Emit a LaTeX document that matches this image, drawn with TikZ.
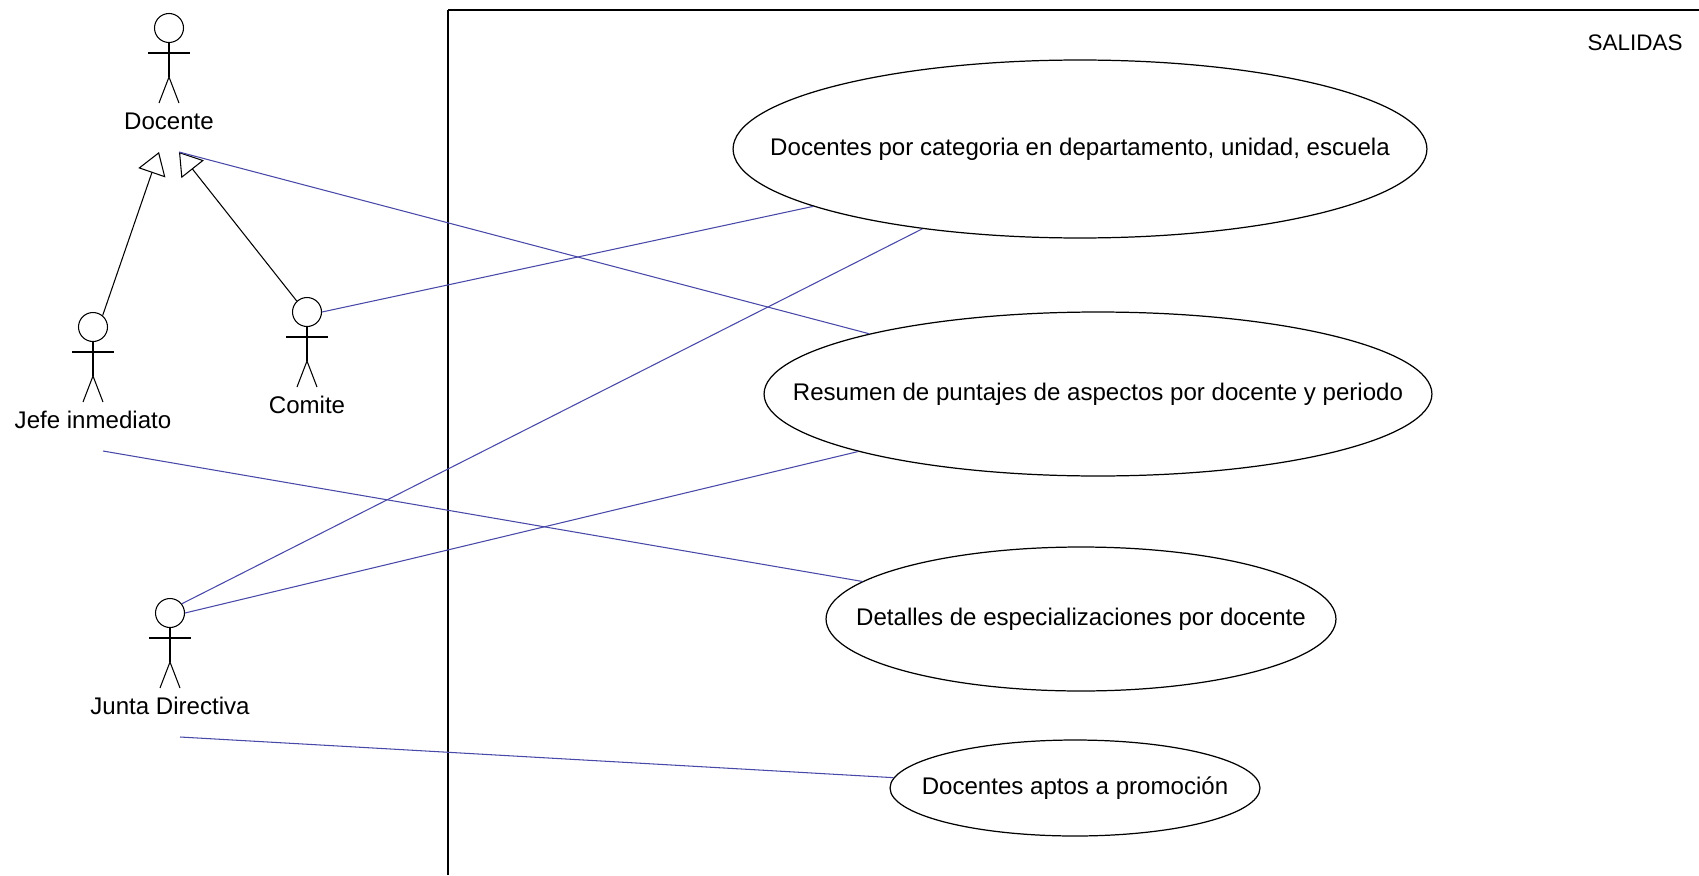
\documentclass[tikz,border=0pt]{standalone}
\usepackage{fontspec}
\setmainfont{Liberation Sans}
\usetikzlibrary{shapes.geometric,arrows.meta}

\definecolor{linkblue}{RGB}{72,72,168}

\tikzset{
  usecase/.style={draw, ellipse, line width=0.7pt, inner sep=0pt, font=\fontsize{13.7}{16}\selectfont},
  actorhead/.style={draw, circle, minimum size=0.58cm, inner sep=0pt},
  actorlabel/.style={font=\fontsize{13.7}{16}\selectfont, inner sep=0pt},
  link/.style={draw=linkblue, line width=0.6pt},
  inherit/.style={-{Triangle[open, length=0.44cm, width=0.57cm]}, line width=0.6pt},
}

% stick figure: name, x, y, label
\newcommand{\actorfig}[4]{%
  \node[actorhead] (#1-head) at (#2,#3) {};
  \draw (#1-head.south) -- ([shift={(0,49)}]#1-head.center) coordinate (#1-hip);
  \draw ([shift={(-21,25)}]#1-head.center) -- ++(42,0);
  \draw ([shift={(-10,75)}]#1-head.center) -- (#1-hip) -- ([shift={(10,75)}]#1-head.center);
  \node[actorlabel] (#1-label) at ([shift={(0,93)}]#1-head.center) {#4};
  \coordinate (#1-link) at ([shift={(10,124)}]#1-head.center);
}

\begin{document}
\begin{tikzpicture}[x=0.02cm, y=-0.02cm, line width=0.6pt]
  \useasboundingbox (0,0) rectangle (1699,875);

  % system boundary
  \draw (448,10) -- (1699,10);
  \draw (448,10) -- (448,875);
  \node[font=\fontsize{12.8}{15}\selectfont] (salidas) at (1635,43) {SALIDAS};

  % actors
  \actorfig{docente}{169}{28}{Docente}
  \actorfig{jefe}{93}{327}{Jefe inmediato}
  \actorfig{comite}{307}{312}{Comite}
  \actorfig{junta}{170}{613}{Junta Directiva}
  \coordinate (docente-gen) at ([shift={(-20,0)}]docente-link);

  % use cases
  \node[usecase, minimum width=13.88cm, minimum height=3.56cm] (categoria) at (1080,149) {\makebox[0pt]{Docentes por categoria en departamento, unidad, escuela}};
  \node[usecase, minimum width=13.36cm, minimum height=3.28cm] (resumen) at (1098,394) {\makebox[0pt]{Resumen de puntajes de aspectos por docente y periodo}};
  \node[usecase, minimum width=10.2cm, minimum height=2.88cm] (detalles) at (1081,619) {\makebox[0pt]{Detalles de especializaciones por docente}};
  \node[usecase, minimum width=7.4cm, minimum height=1.92cm] (aptos) at (1075,788) {\makebox[0pt]{Docentes aptos a promoción}};

  % generalizations
  \draw[inherit] (jefe-head.50) -- (docente-gen);
  \draw[inherit] (comite-head.133) -- (docente-link);

  % associations
  \draw[link] (docente-link) -- (resumen);
  \draw[link] (comite-head.east) -- (categoria);
  \draw[link] (jefe-link) -- (detalles);
  \draw[link] (junta-head.38) -- (categoria);
  \draw[link] (junta-head.east) -- (resumen);
  \draw[link] (junta-link) -- (aptos);
\end{tikzpicture}
\end{document}
